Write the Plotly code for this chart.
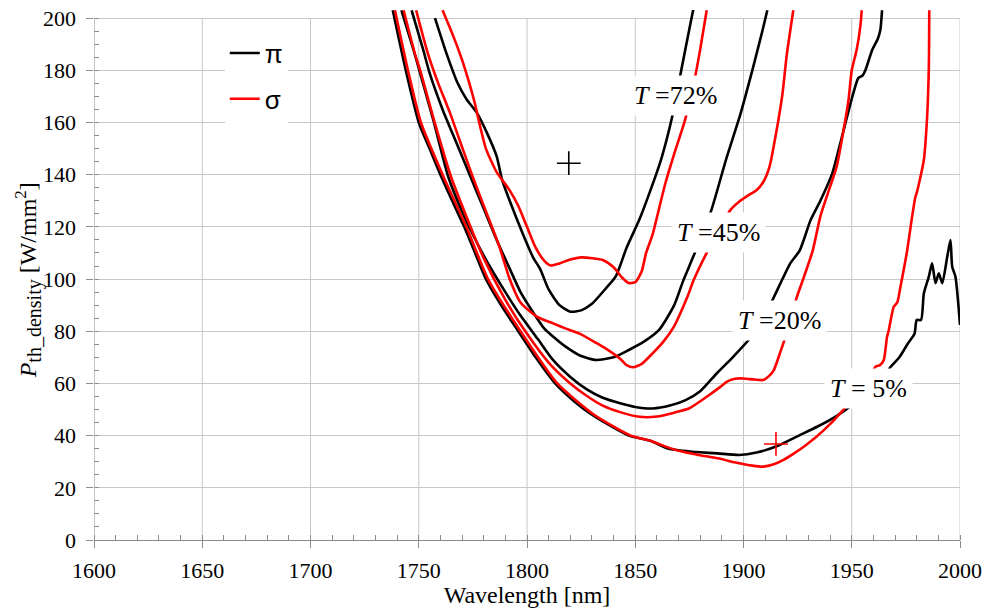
import plotly.graph_objects as go

# ---------------- data ----------------
# T = 5 %
x5_pi = [1738, 1744, 1750, 1755, 1760, 1766, 1771, 1776, 1781, 1788, 1796, 1804, 1813, 1822, 1830,
         1838, 1847, 1857, 1865, 1872, 1880, 1888, 1898, 1906, 1915, 1926, 1934, 1942, 1949, 1955,
         1960, 1965, 1968, 1972, 1976, 1979, 1980, 1982, 1983.3, 1985.6, 1987.1, 1988.7, 1990.2,
         1991.8, 1994.1, 1995.6, 1996.4, 1997.9, 2000]
y5_pi = [203, 180, 160, 150, 140, 129, 120, 110, 100, 90, 80, 70, 60, 53, 48,
         44, 40, 38, 35.1, 34.2, 33.6, 33.2, 32.6, 33.5, 35.8, 40.2, 43.4, 47, 51, 55,
         59, 63, 66.4, 70, 75.4, 79, 84.3, 84.3, 94.5, 100.9, 106, 98.4, 102.2,
         98.4, 108.5, 114.9, 104.7, 100.9, 82.4]

x5_sig = [1739, 1745, 1751, 1761, 1772, 1782, 1797, 1814, 1831, 1848, 1857, 1865, 1872, 1880, 1888,
          1898, 1904, 1909, 1914, 1918.5, 1923, 1928, 1937, 1946, 1950, 1955, 1958, 1961, 1963,
          1964.8, 1966.3, 1967, 1969.4, 1971, 1972.5, 1975.6, 1977.9, 1979.4, 1980, 1981.7, 1983.3,
          1984.8, 1985.6, 1985.8]
y5_sig = [203, 180, 160, 140, 120, 100, 80, 60, 48, 40, 38, 35.5, 33.8, 32.5, 31.3,
          29.4, 28.5, 28.1, 29, 30.7, 33, 35.8, 42, 49.8, 54, 59, 62, 66.4, 67,
          69, 77.9, 80, 89.4, 91, 97, 111, 124, 131.5, 133, 139, 145.6,
          162, 181, 203]

# T = 20 %
x20_pi = [1742, 1747.5, 1750.6, 1756.7, 1763.7, 1770, 1780, 1790, 1797, 1805, 1812, 1820, 1828, 1835,
          1843, 1850, 1858, 1866, 1873, 1880, 1887.7, 1895, 1903, 1909, 1914, 1918, 1921.6, 1926,
          1931, 1935.5, 1941, 1945, 1949, 1951, 1953, 1955, 1956.3, 1959.4, 1962, 1963.2, 1964]
y20_pi = [203, 188, 179, 161, 139, 126, 109, 95, 86, 77, 69, 62.5, 57.5, 54.5,
          52.4, 51, 50.4, 51.5, 53.5, 57, 63.9, 70, 77.3, 85, 93, 100, 106, 111,
          122.6, 130, 140.5, 153, 166, 172, 177, 178, 180, 187.7, 192, 195.4, 203]

x20_sig = [1743, 1748, 1751, 1757, 1765, 1772, 1780, 1790, 1800, 1810, 1820, 1828, 1835, 1843, 1852,
           1860, 1868, 1875, 1883, 1889, 1892.4, 1896, 1900, 1905, 1909, 1912, 1914, 1917, 1919,
           1922, 1925, 1928, 1932, 1935.5, 1940, 1943, 1946, 1948.5, 1950, 1952.3, 1954, 1954.6]
y20_sig = [203, 187, 179, 161, 139, 124, 108, 92, 79, 68, 60, 55, 51.5, 49, 47.2,
           47.3, 48.8, 50.5, 54.9, 58.5, 60.7, 61.8, 61.9, 61.5, 61.3, 63, 65.1, 72, 77,
           86, 94, 101, 111, 124, 135.4, 143, 156, 168.6, 180, 188, 197, 203]

# T = 45 %
x45_pi = [1746.7, 1752, 1755, 1761, 1767.5, 1774, 1780, 1786, 1792, 1797, 1803, 1808, 1812, 1818,
          1825, 1832, 1840, 1847, 1854, 1861, 1868, 1872, 1877, 1885, 1892, 1898.5, 1904.7, 1909, 1911]
y45_pi = [203, 188, 179, 165, 152, 139, 127, 115, 104, 95, 87, 81, 78, 74,
          70.5, 69, 70, 72.8, 76, 80.5, 90, 99, 109, 126, 146, 163, 182, 196, 203]

x45_sig = [1748.8, 1754, 1759, 1764.5, 1770.5, 1775, 1781, 1787, 1792, 1797, 1804.5, 1812, 1818,
           1824.5, 1832, 1838, 1843, 1846, 1849, 1853, 1858, 1863, 1868, 1874, 1877, 1883, 1889,
           1894, 1898.5, 1902, 1906, 1909, 1912, 1915.5, 1918, 1920, 1923]
y45_sig = [203, 187, 175, 163.5, 149.4, 139, 126, 113, 100, 91, 85.6, 83, 81,
           79, 75.5, 72.5, 69.5, 67, 66.2, 67.5, 71.5, 76, 82, 93, 99.6, 110, 119,
           126.5, 130, 132, 134, 137, 143, 158, 171, 186, 203]

# T = 72 %
x72_pi = [1757.5, 1763, 1768, 1772, 1777, 1781.5, 1786, 1788.5, 1792, 1798, 1803, 1806, 1810, 1815,
          1820, 1825, 1830, 1836, 1841, 1846, 1852, 1857, 1862, 1867, 1871, 1876, 1877]
y72_pi = [200, 186, 175, 169, 163.5, 156, 147, 138, 130, 117.5, 108, 104, 96, 90,
          87.5, 88, 90.5, 96, 101, 112, 123, 134, 146, 162, 179, 200, 204]

x72_sig = [1761, 1766, 1770, 1773, 1776, 1778.5, 1781, 1786, 1792, 1796, 1800, 1804, 1808, 1811, 1815,
           1820, 1825, 1830, 1835, 1840, 1844, 1847, 1850, 1853, 1855, 1858, 1861, 1864, 1868,
           1873, 1878, 1880, 1883]
y72_sig = [203, 193, 184, 176, 167, 158, 150, 141, 134, 128, 120, 112, 107, 105.2, 106,
           107.5, 108.3, 108, 107.3, 104.5, 100.5, 98.5, 98.8, 103, 110, 117, 127, 137, 148,
           161, 179, 188, 203]

# "+" markers
plus_x = [1819.3, 1915.0]
plus_y = [144.4, 36.8]
plus_colors = ["black", "red"]

# curve labels
label_text = ["<i>T</i> =72%", "<i>T</i> =45%", "<i>T</i> =20%", "<i>T</i> = 5%"]
label_x = [1868.5, 1888.3, 1916.5, 1957.8]
label_y = [170.5, 118.0, 84.3, 58.1]

legend_names = ["π", "σ"]

# axis ticks
x_ticks = [1600, 1650, 1700, 1750, 1800, 1850, 1900, 1950, 2000]
y_ticks = [0, 20, 40, 60, 80, 100, 120, 140, 160, 180, 200]

# ---------------- figure ----------------
SERIF = "Liberation Serif"
grid_col = "#c8c8c8"
axis_col = "#8c8c8c"
fig = go.Figure()

series = [
    (x5_pi, y5_pi, "black", "pi"), (x5_sig, y5_sig, "red", "sigma"),
    (x20_pi, y20_pi, "black", "pi"), (x20_sig, y20_sig, "red", "sigma"),
    (x45_pi, y45_pi, "black", "pi"), (x45_sig, y45_sig, "red", "sigma"),
    (x72_pi, y72_pi, "black", "pi"), (x72_sig, y72_sig, "red", "sigma"),
]
shown = set()
for xs, ys, col, grp in series:
    show = grp not in shown
    shown.add(grp)
    fig.add_trace(go.Scatter(
        x=xs, y=ys, mode="lines",
        line=dict(color=col, width=2.6, shape="spline", smoothing=0.6),
        name=legend_names[0] if grp == "pi" else legend_names[1],
        legendgroup=grp, showlegend=show, hoverinfo="skip",
    ))

fig.add_trace(go.Scatter(
    x=plus_x, y=plus_y, mode="markers", showlegend=False, hoverinfo="skip",
    marker=dict(symbol="cross-thin", size=17, color=plus_colors,
                line=dict(color=plus_colors, width=1.6)),
))

for t, xx, yy in zip(label_text, label_x, label_y):
    fig.add_annotation(x=xx, y=yy, text=t, showarrow=False,
                       font=dict(family=SERIF, size=26, color="black"),
                       bgcolor="white", borderpad=5)

# y-axis title (placed as rotated text left of the tick labels)
fig.add_annotation(
    text="<i>P</i><sub><span style='font-size:20px'>th_density</span></sub> [W/mm<sup>2</sup>]",
    xref="paper", yref="paper", x=0, y=0.49, xanchor="center", yanchor="middle",
    xshift=-66, textangle=-90, showarrow=False,
    font=dict(family=SERIF, size=24, color="black"),
)

# vertical grid lines (stop at the 200 line) and the left axis line
for xv in x_ticks[1:]:
    fig.add_shape(type="line", xref="x", yref="y", x0=xv, x1=xv, y0=y_ticks[0], y1=y_ticks[-1],
                  line=dict(color=grid_col, width=1), layer="below")
fig.add_shape(type="line", xref="x", yref="y", x0=x_ticks[0], x1=x_ticks[0],
              y0=y_ticks[0], y1=y_ticks[-1], line=dict(color=axis_col, width=1), layer="below")

fig.update_layout(
    width=995, height=608,
    margin=dict(l=94.3, r=35.4, t=10, b=68),
    paper_bgcolor="white", plot_bgcolor="white",
    font=dict(family=SERIF, size=22, color="black"),
    legend=dict(x=0.151, y=0.963, xanchor="left", yanchor="top",
                bgcolor="white", borderwidth=0,
                font=dict(family="Liberation Sans", size=26),
                traceorder="grouped", tracegroupgap=9, itemwidth=30),
    xaxis=dict(
        range=[x_ticks[0], x_ticks[-1]], dtick=50, tick0=x_ticks[0],
        showgrid=False,
        showline=True, linecolor=axis_col, linewidth=1, mirror=False,
        ticks="outside", ticklen=7, tickcolor=axis_col, ticklabelstandoff=4,
        minor=dict(dtick=10, ticks="inside", ticklen=5, tickcolor=axis_col, showgrid=False),
        zeroline=False, automargin=False,
        title=dict(text="Wavelength [nm]", font=dict(family=SERIF, size=24), standoff=4),
    ),
    yaxis=dict(
        range=[0, 203.1], dtick=20, tick0=0,
        showgrid=True, gridcolor=grid_col, gridwidth=1,
        showline=False,
        ticks="outside", ticklen=7, tickcolor=axis_col, ticksuffix="\u00a0",
        minor=dict(dtick=5, ticks="inside", ticklen=5, tickcolor=axis_col, showgrid=False),
        zeroline=False, automargin=False,
    ),
)

fig.write_html("out.html", config={"displayModeBar": False},
               post_script="document.body.style.margin='0px';document.body.style.overflow='hidden';")
